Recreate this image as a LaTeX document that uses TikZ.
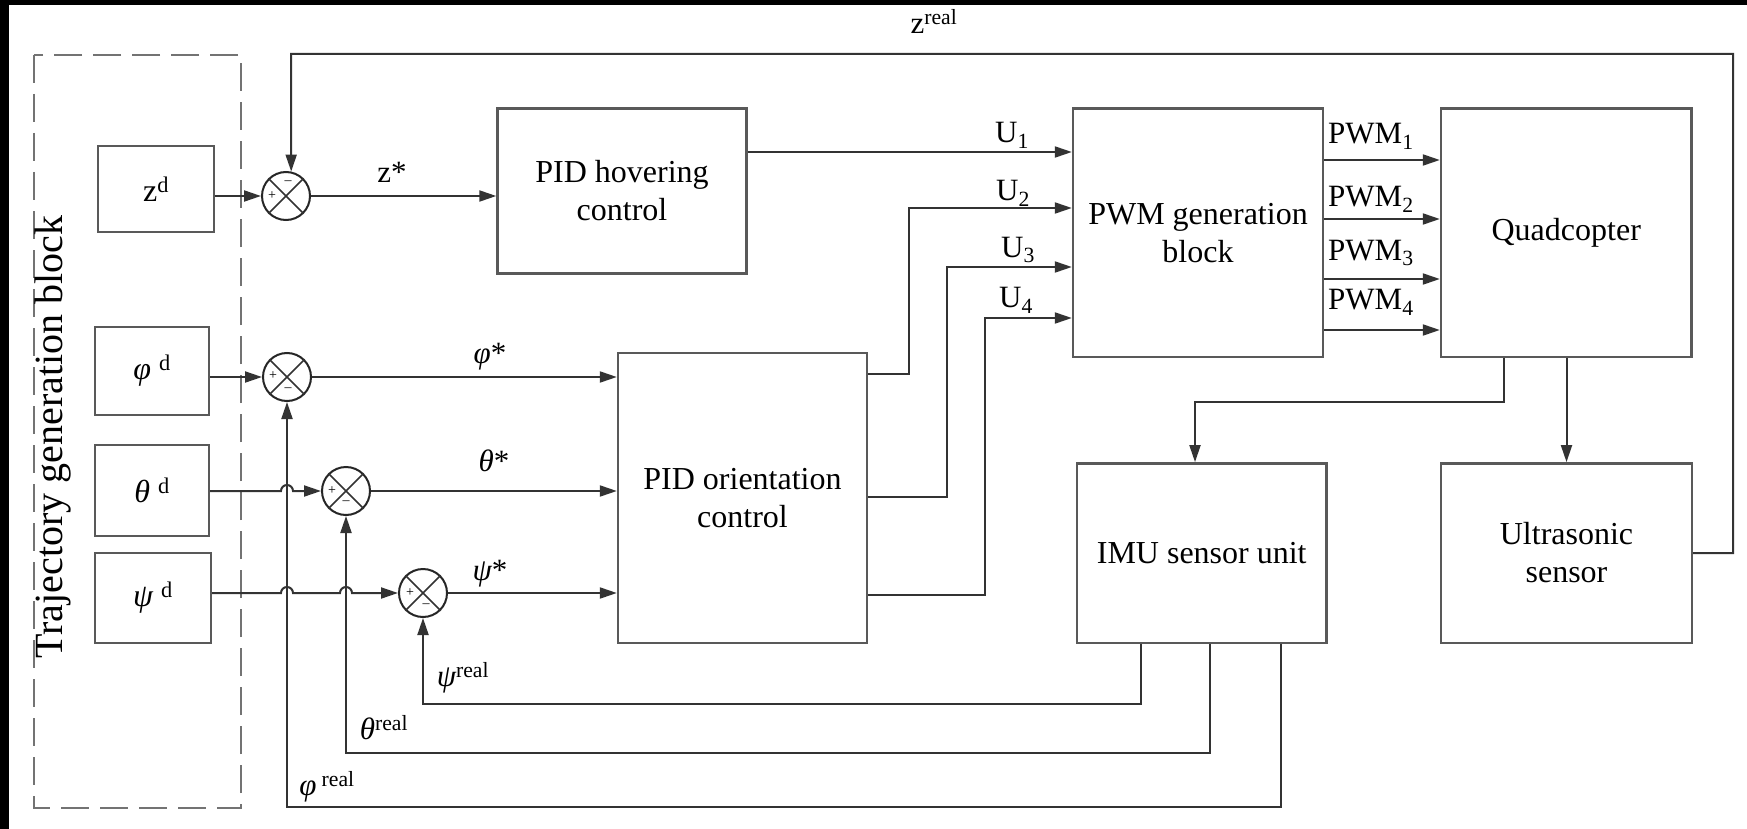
\documentclass[tikz,border=0pt]{standalone}
\usepackage{fontspec}
\setmainfont{Liberation Serif}
\usetikzlibrary{arrows.meta,calc}
\begin{document}
\begin{tikzpicture}[x=1pt,y=-1pt,
  blk/.style={draw=black!65,line width=2.4pt,inner sep=0pt,align=center,font=\fontsize{32}{38}\selectfont},
  sumj/.style={draw=black!85,circle,minimum size=48pt,inner sep=0pt,line width=2pt},
  lbl/.style={font=\fontsize{31}{37}\selectfont,inner sep=0pt},
  wire/.style={line width=2pt,draw=black!80},
  arr/.style={wire,-{Triangle[length=17pt,width=11pt]}},
  sgn/.style={font=\fontsize{14}{14}\selectfont,inner sep=0pt}
]
\useasboundingbox (0,0) rectangle (1747,829);
\fill[white] (0,0) rectangle (1747,829);
\fill[black] (0,0) rectangle (1747,5);
\fill[black] (0,0) rectangle (9,829);

% trajectory block
\draw[black!55,line width=2pt,dash pattern=on 28pt off 11pt] (34,55) rectangle (241,808);
\node[rotate=90,font=\fontsize{40}{40}\selectfont,inner sep=0pt] (title) at (53,437) {Trajectory generation block};

% blocks
\node[blk,minimum width=116pt,minimum height=86pt] (zd) at (156,189) {z\textsuperscript{d}};
\node[blk,minimum width=114pt,minimum height=88pt] (phd) at (152,371) {{\itshape φ} \textsuperscript{d}};
\node[blk,minimum width=114pt,minimum height=91pt] (thd) at (152,490.5) {{\itshape θ} \textsuperscript{d}};
\node[blk,minimum width=116pt,minimum height=90pt] (psd) at (153,598) {{\itshape ψ} \textsuperscript{d}};
\node[blk,minimum width=249pt,minimum height=165pt] (hov) at (622,191) {PID hovering\\control};
\node[blk,minimum width=249pt,minimum height=290pt] (ori) at (742.5,497.7) {PID orientation\\control};
\node[blk,minimum width=250pt,minimum height=248.5pt] (pwm) at (1198,232.75) {PWM generation\\block};
\node[blk,minimum width=250.5pt,minimum height=248.5pt] (quad) at (1566.25,232.75) {Quadcopter};
\node[blk,minimum width=249.5pt,minimum height=179.4pt] (imu) at (1201.75,553) {IMU sensor unit};
\node[blk,minimum width=251pt,minimum height=179.4pt] (ult) at (1566.5,553) {Ultrasonic\\sensor};

% summing junctions
\node[sumj] (zc) at (286,196) {};
\node[sumj] (pc) at (287,377) {};
\node[sumj] (tc) at (346,491) {};
\node[sumj] (sc) at (423,593) {};
\foreach \c in {zc,pc,tc,sc}{
  \draw[wire,line width=1.6pt] (\c.45) -- (\c.225) (\c.135) -- (\c.315);
}
\node[sgn] (zp) at ($(zc)+(-14,0)$) {+};
\node[sgn] (zm) at ($(zc)+(2,-13)$) {–};
\node[sgn] (pp) at ($(pc)+(-14,-1)$) {+};
\node[sgn] (pm) at ($(pc)+(1,13)$) {–};
\node[sgn] (tp) at ($(tc)+(-14,0)$) {+};
\node[sgn] (tm) at ($(tc)+(0,12)$) {–};
\node[sgn] (sp) at ($(sc)+(-13,0)$) {+};
\node[sgn] (sm) at ($(sc)+(3,13)$) {–};

% helper coordinates
\coordinate (zr1) at (1733,553);
\coordinate (zr2) at (1733,54);
\coordinate (zr3) at (291,54);
\coordinate (o1) at (909,374);
\coordinate (o1b) at (909,208);
\coordinate (o2) at (947,497);
\coordinate (o2b) at (947,267);
\coordinate (o3) at (985,595);
\coordinate (o3b) at (985,318);
\coordinate (q1) at (1504,402);
\coordinate (q2) at (1195,402);
\coordinate (f1) at (1141,704);
\coordinate (f1b) at (423,704);
\coordinate (f2) at (1210,753);
\coordinate (f2b) at (346,753);
\coordinate (f3) at (1281,807);
\coordinate (f3b) at (287,807);

% forward paths
\draw[arr] (zd.east |- zc) -- (zc.west);
\draw[arr] (zc) -- (zc -| hov.west);
\draw[arr] (phd.east |- pc) -- (pc.west);
\draw[arr] (pc) -- (pc -| ori.west);
\draw[arr] (thd.east |- tc) -- (281,491) arc[start angle=180,end angle=0,radius=6pt] -- (tc.west);
\draw[arr] (tc) -- (tc -| ori.west);
\draw[arr] (psd.east |- sc) -- (281,593) arc[start angle=180,end angle=0,radius=6pt] -- (340,593) arc[start angle=180,end angle=0,radius=6pt] -- (sc.west);
\draw[arr] (sc) -- (sc -| ori.west);

\draw[arr] (hov.east |- 0,152) -- (pwm.west |- 0,152);
\draw[arr] (ori.east |- o1) -- (o1) -- (o1b) -- (pwm.west |- o1b);
\draw[arr] (ori.east |- o2) -- (o2) -- (o2b) -- (pwm.west |- o2b);
\draw[arr] (ori.east |- o3) -- (o3) -- (o3b) -- (pwm.west |- o3b);

\foreach \yy in {160,219,279,330}{
  \draw[arr] (pwm.east |- 0,\yy) -- (quad.west |- 0,\yy);
}
\draw[arr] (quad.south -| q1) -- (q1) -- (q2) -- (imu.north -| q2);
\draw[arr] (quad.south -| ult.north) -- (ult.north);

% feedback paths
\draw[arr] (ult.east |- zr1) -- (zr1) -- (zr2) -- (zr3) -- (zc.78);
\draw[arr] (imu.south -| f1) -- (f1) -- (f1b) -- (sc.south);
\draw[arr] (imu.south -| f2) -- (f2) -- (f2b) -- (tc.south);
\draw[arr] (imu.south -| f3) -- (f3) -- (f3b) -- (pc.south);

% labels
\node[lbl] (lzs) at (392,172) {z*};
\node[lbl] (lps) at (490,357) {{\itshape φ}*};
\node[lbl] (lts) at (494,461) {{\itshape θ}*};
\node[lbl] (lss) at (490,574) {{\itshape ψ}*};
\node[lbl] (lu1) at (1012,135) {U\textsubscript{1}};
\node[lbl] (lu2) at (1013,193) {U\textsubscript{2}};
\node[lbl] (lu3) at (1018,250) {U\textsubscript{3}};
\node[lbl] (lu4) at (1016,300) {U\textsubscript{4}};
\node[lbl,anchor=west] (lp1) at (1328,136) {PWM\textsubscript{1}};
\node[lbl,anchor=west] (lp2) at (1328,199) {PWM\textsubscript{2}};
\node[lbl,anchor=west] (lp3) at (1328,253) {PWM\textsubscript{3}};
\node[lbl,anchor=west] (lp4) at (1328,302) {PWM\textsubscript{4}};
\node[lbl] (lzr) at (934,21) {z\textsuperscript{real}};
\node[lbl] (lsr) at (463,678) {{\itshape ψ}\textsuperscript{real}};
\node[lbl] (ltr) at (384,728) {{\itshape θ}\textsuperscript{real}};
\node[lbl] (lpr) at (327,787) {{\itshape φ}\,\textsuperscript{real}};
\end{tikzpicture}
\end{document}
